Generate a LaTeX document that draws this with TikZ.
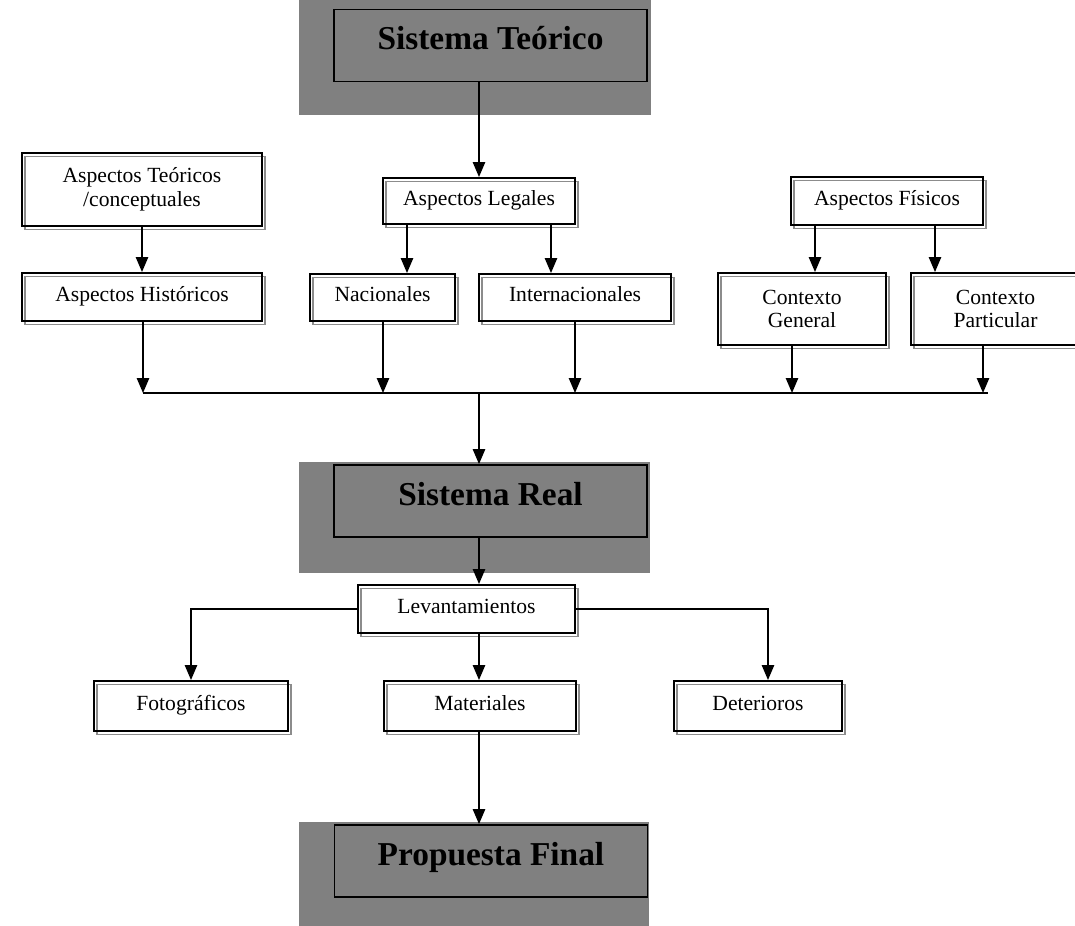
\documentclass[tikz,border=0pt]{standalone}
\usepackage{fontspec}
\setmainfont{Liberation Serif}
\usetikzlibrary{arrows.meta,backgrounds}
\tikzset{
  caja/.style={draw,line width=1.1pt,inner sep=1pt,align=center,
    font=\fontsize{12.3}{13.5}\selectfont,
    preaction={draw=black!45,line width=1pt,transform canvas={shift={(0.06cm,-0.07cm)}}}},
  una/.style={caja,text height=0.7em,text depth=0.22em},
  sistema/.style={draw,line width=1pt,inner sep=0pt,minimum width=6.26cm,minimum height=1.44cm,
    font=\fontsize{19}{22}\selectfont\bfseries,text height=13pt,text depth=8pt},
  fondo/.style={fill=black!50},
  flecha/.style={-{Triangle[width=7pt,length=8.5pt]},line width=0.9pt},
  linea/.style={line width=0.9pt}
}
\begin{document}
\begin{tikzpicture}[x=0.02cm,y=-0.02cm]
\useasboundingbox (0,0) rectangle (1075,926);
% bloques principales
\node[sistema] (teo) at (490.5,45.5) {Sistema Teórico};
\node[sistema] (real) at (490.5,501) {Sistema Real};
\node[sistema] (prop) at (491,861) {Propuesta Final};
\begin{scope}[on background layer]
\fill[fondo] ([shift={(-0.68cm,0.18cm)}]teo.north west) rectangle ([shift={(0.06cm,-0.66cm)}]teo.south east);
\fill[fondo] ([shift={(-0.68cm,0.04cm)}]real.north west) rectangle ([shift={(0.04cm,-0.70cm)}]real.south east);
\fill[fondo] ([shift={(-0.70cm,0.04cm)}]prop.north west) rectangle ([shift={(0.02cm,-1.00cm)}]prop.south east);
\end{scope}
% aspectos
\node[caja,minimum width=4.8cm,minimum height=1.46cm] (tc) at (142,189.5) {Aspectos Teóricos\\/conceptuales};
\node[una,minimum width=3.84cm,minimum height=0.92cm] (leg) at (479,201) {Aspectos Legales};
\node[una,minimum width=3.84cm,minimum height=0.96cm] (fis) at (887,201) {Aspectos Físicos};
\node[una,minimum width=4.8cm,minimum height=0.96cm] (his) at (142,297) {Aspectos Históricos};
\node[una,minimum width=2.9cm,minimum height=0.94cm] (nac) at (382.5,297.5) {Nacionales};
\node[una,minimum width=3.84cm,minimum height=0.94cm] (int) at (575,297.5) {Internacionales};
\node[caja,minimum width=3.36cm,minimum height=1.44cm] (cgen) at (802,309) {Contexto\\General};
\node[caja,minimum width=3.38cm,minimum height=1.44cm] (cpar) at (995.5,309) {Contexto\\Particular};
% levantamientos
\node[una,minimum width=4.34cm,minimum height=0.96cm] (lev) at (466.5,609) {Levantamientos};
\node[una,minimum width=3.88cm,minimum height=1.0cm] (foto) at (191,706) {Fotográficos};
\node[una,minimum width=3.84cm,minimum height=1.0cm] (mat) at (480,706) {Materiales};
\node[una,minimum width=3.36cm,minimum height=1.0cm] (det) at (758,706) {Deterioros};
% conectores
\coordinate (eje) at (479,0);
\coordinate (busI) at (143,393);
\coordinate (busD) at (988,393);
\draw[flecha] (teo.south -| eje) -- (leg.north -| eje);
\draw[flecha] (tc.south) -- (his.north);
\foreach \a/\b/\x in {leg/nac/407,leg/int/551,fis/cgen/815,fis/cpar/935}
  \draw[flecha] (\a.south -| \x,0) -- (\b.north -| \x,0);
\foreach \n/\x in {his/143,nac/383,int/575,cgen/792,cpar/983}
  \draw[flecha] (\n.south -| \x,0) -- (\x,0 |- busI);
\draw[linea] (busI) -- (busD);
\draw[flecha] (eje |- busI) -- (real.north -| eje);
\draw[flecha] (real.south -| eje) -- (lev.north -| eje);
\draw[flecha] (lev.west) -| (foto.north);
\draw[flecha] (lev.south -| eje) -- (mat.north -| eje);
\draw[flecha] (lev.east) -| ([xshift=0.2cm]det.north);
\draw[flecha] (mat.south -| eje) -- (prop.north -| eje);
\end{tikzpicture}
\end{document}
